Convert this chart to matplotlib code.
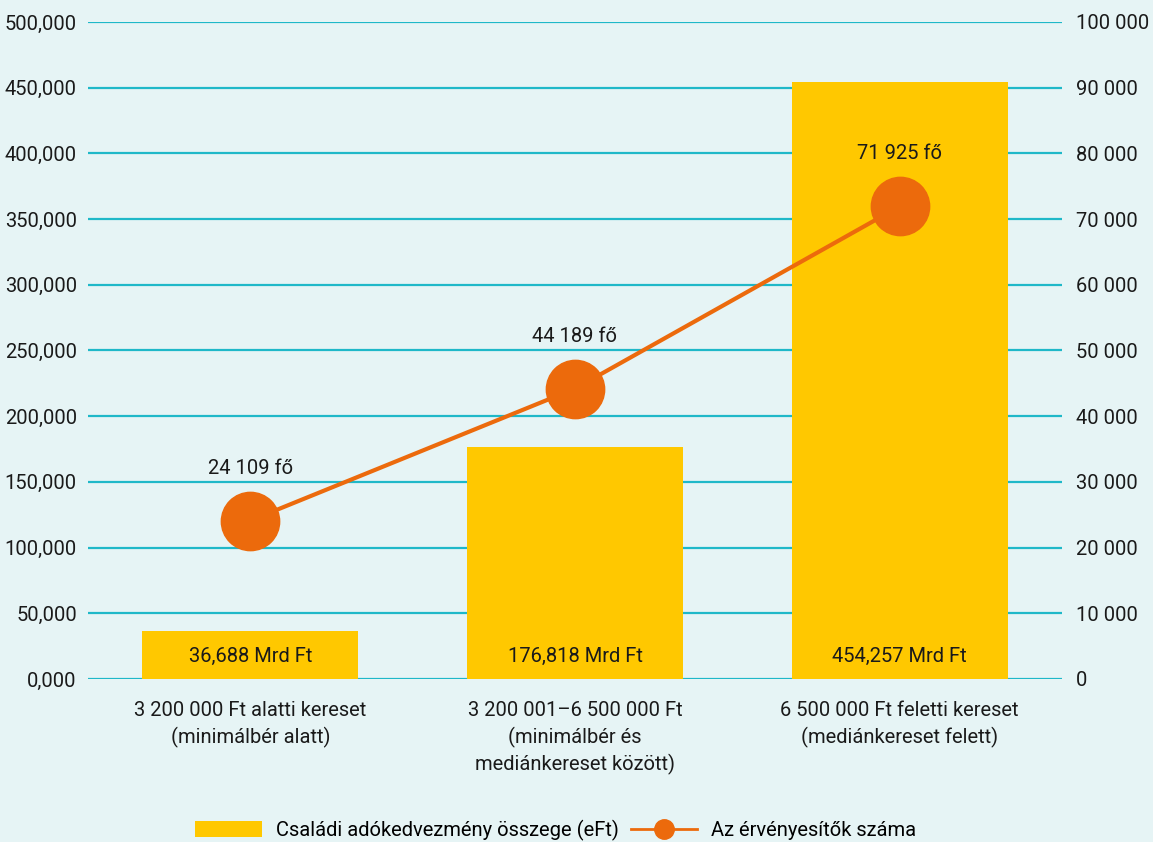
import numpy as np
import matplotlib.pyplot as plt
from matplotlib.ticker import FuncFormatter
from matplotlib.lines import Line2D

# Data
categories = [
    "3 200 000 Ft alatti kereset\n(minimálbér alatt)",
    "3 200 001–6 500 000 Ft\n(minimálbér és\nmediánkereset között)",
    "6 500 000 Ft feletti kereset\n(mediánkereset felett)",
]
amounts = [36.688, 176.818, 454.257]       # Mrd Ft
claimants = [24109, 44189, 71925]          # persons
left_ticks = np.arange(0, 500001, 50000) / 1000
right_ticks = np.arange(0, 100001, 10000)

BG = "#e6f4f5"
GRID = "#1fb8c8"
BAR = "#ffc800"
LINE = "#ec6a0c"
TXT = "#1a1a1a"
FS = 14.5

plt.rcParams["font.family"] = ["Roboto", "DejaVu Sans"]

fig = plt.figure(figsize=(11.53, 8.42), dpi=100, facecolor=BG)
ax = fig.add_axes([0.0763, 0.1936, 0.8447, 0.7803], facecolor=BG)
ax2 = ax.twinx()

x = np.arange(len(categories))

# gridlines
for t in left_ticks:
    ax.axhline(t, color=GRID, lw=1.6, zorder=0)

ax.bar(x, amounts, width=0.665, color=BAR, zorder=2,
       label="Családi adókedvezmény összege (eFt)")
for xi, v in zip(x, amounts):
    ax.text(xi, 17, f"{v:.3f}".replace(".", ",") + " Mrd Ft",
            ha="center", va="center", fontsize=FS, color=TXT, zorder=3)

ax.set_xlim(-0.5, 2.5)
ax.set_ylim(0, 500)
ax.set_yticks(left_ticks)
ax.yaxis.set_major_formatter(FuncFormatter(lambda v, p: f"{v:.3f}".replace(".", ",")))
ax.set_xticks(x)
ax.set_xticklabels(categories, fontsize=FS, color=TXT, linespacing=1.4)
ax.tick_params(axis="x", length=0, pad=16)
ax.tick_params(axis="y", length=0, pad=8, labelsize=FS, labelcolor=TXT)

ax2.plot(x, claimants, color=LINE, lw=3, marker="o", markersize=42,
         zorder=4, label="Az érvényesítők száma")
for xi, v in zip(x, claimants):
    ax2.text(xi, v + 8000, f"{v:,}".replace(",", " ") + " fő",
             ha="center", va="center", fontsize=FS, color=TXT)

ax2.set_ylim(0, 100000)
ax2.set_yticks(right_ticks)
ax2.yaxis.set_major_formatter(FuncFormatter(lambda v, p: f"{int(v):,}".replace(",", " ")))
ax2.tick_params(axis="y", length=0, pad=10, labelsize=FS, labelcolor=TXT)

for a in (ax, ax2):
    for s in a.spines.values():
        s.set_visible(False)
ax.set_zorder(ax2.get_zorder() - 1)
ax2.patch.set_visible(False)

h1, l1 = ax.get_legend_handles_labels()
h2 = [Line2D([0], [0], color=LINE, lw=2, marker="o", markersize=14)]
l2 = ["Az érvényesítők száma"]
fig.legend(h1 + h2, l1 + l2, loc="lower center", bbox_to_anchor=(0.482, -0.02),
           ncol=2, frameon=False, fontsize=FS, handlelength=3.3, handleheight=0.8,
           columnspacing=0.6, handletextpad=0.7)

fig.savefig("out.png", dpi=100, facecolor=BG)
